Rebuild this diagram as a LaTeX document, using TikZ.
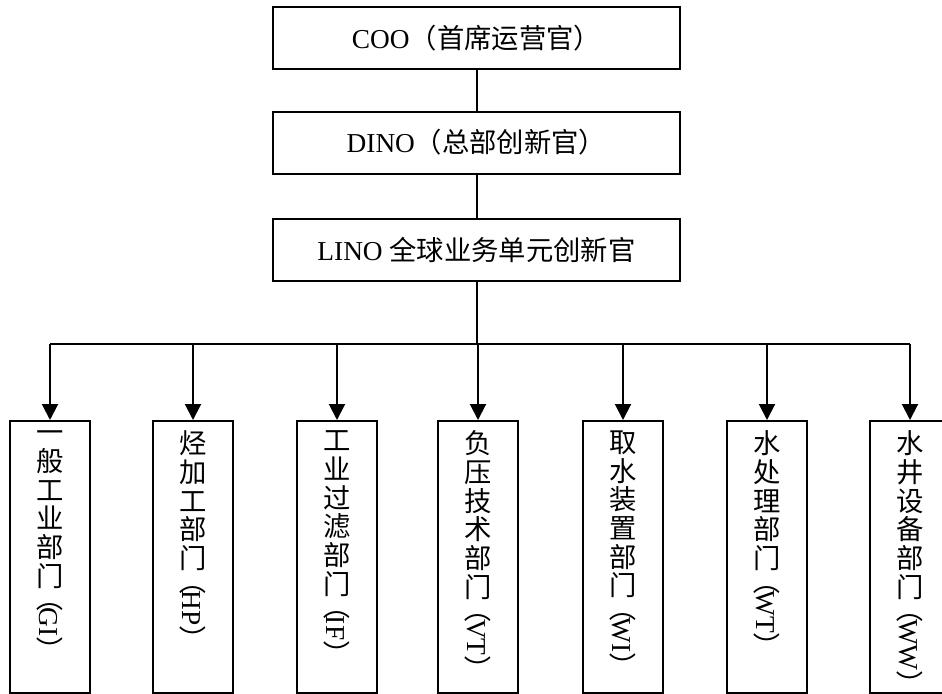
\documentclass[tikz,border=0pt]{standalone}
\usepackage{fontspec}
\setmainfont{Liberation Serif}
\newfontfamily\cjk{Noto Sans CJK SC}
\usetikzlibrary{arrows.meta,positioning}

\begin{document}
\begin{tikzpicture}[x=0.75pt,y=-0.75pt,
    officer/.style={draw, line width=1.5pt, minimum width=305pt, minimum height=46.5pt,
        font=\fontsize{20.5}{24}\selectfont},
    deptbox/.style={draw, line width=1.5pt, minimum width=60pt, minimum height=204pt,
        anchor=north, inner sep=0pt},
    depttext/.style={anchor=north, inner sep=0pt, align=center,
        font=\cjk\fontsize{20.5}{21.5}\selectfont},
    link/.style={line width=1.5pt},
    down/.style={link, -{Triangle[length=12pt,width=12pt]}}]
    \useasboundingbox (0,0) rectangle (942,693);
    \clip (0,0) rectangle (942,693);

    % Officers
    \node[officer] (coo) at (476.5,38) {COO{\cjk （首席运营官）}};
    \node[officer] (dino) at (476.5,142.5) {DINO{\cjk （总部创新官）}};
    \node[officer] (lino) at (476.5,250) {LINO {\cjk 全球业务单元创新官}};

    \draw[link] (coo) -- (dino);
    \draw[link] (dino) -- (lino);

    % Distribution bar
    \coordinate (barL) at (50,344);
    \coordinate (barR) at (910,344);
    \draw[link] (lino.south) -- (lino.south |- barL);
    \draw[link] (barL) -- (barR);

    % Departments
    \foreach \name/\cx/\txt/\abbr in {
        gi/50/{一\\般\\工\\业\\部\\门}/GI,
        hp/193/{烃\\加\\工\\部\\门}/HP,
        if/337/{工\\业\\过\\滤\\部\\门}/IF,
        vt/478/{负\\压\\技\\术\\部\\门}/VT,
        wi/623/{取\\水\\装\\置\\部\\门}/WI,
        wt/767/{水\\处\\理\\部\\门}/WT,
        ww/910/{水\\井\\设\\备\\部\\门}/WW}{
        \node[deptbox] (\name) at (\cx,420) {};
        \node[depttext] (\name-t) at ([yshift=-8pt]\name.north)
            {\txt\\\raisebox{1.1em}[0pt]{\rotatebox{-90}{（\kern-0.15em{\rmfamily\abbr}）\kern-0.45em}}};
        \draw[down] (\name.north |- barL) -- (\name.north);
    }
\end{tikzpicture}
\end{document}
